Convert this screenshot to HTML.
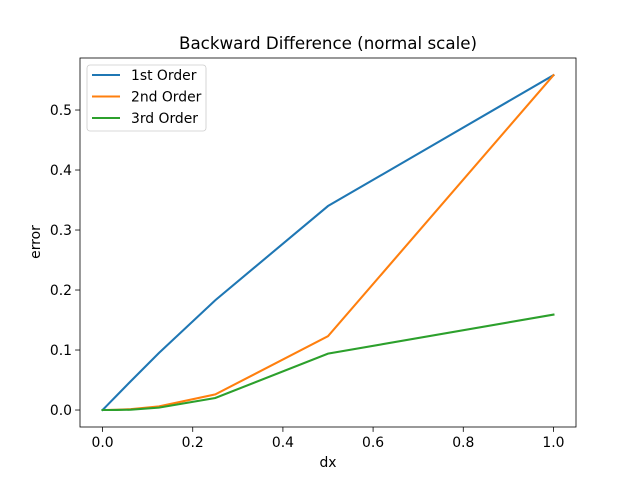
<!DOCTYPE html>
<html><head><meta charset="utf-8"><style>
body{margin:0;background:#fff;}
svg{display:block;font-family:"DejaVu Sans","Liberation Sans",sans-serif;}
</style></head><body>
<svg id="chart" width="640" height="480"></svg>
<script>
const xValues=[0.001953125,0.00390625,0.0078125,0.015625,0.03125,0.0625,0.125,0.25,0.5,1.0];
const firstOrder=[0.0015,0.003,0.006,0.012,0.024,0.048,0.095,0.183,0.34,0.558];
const secondOrder=[0,0,0.00001,0.0001,0.0004,0.0015,0.006,0.026,0.123,0.558];
const thirdOrder=[0,0,0,0.00001,0.0001,0.0005,0.004,0.020,0.094,0.159];
const xTicks=[0.0,0.2,0.4,0.6,0.8,1.0];
const yTicks=[0.0,0.1,0.2,0.3,0.4,0.5];
const seriesNames=["1st Order","2nd Order","3rd Order"];
const colors=["#1f77b4","#ff7f0e","#2ca02c"];
const NS="http://www.w3.org/2000/svg";
const svg=document.getElementById('chart');
const L=80,R=576,T=58,B=427;
const xMin=-0.05,xMax=1.05,yMin=-0.0283,yMax=0.5867;
const sx=v=>L+(v-xMin)/(xMax-xMin)*(R-L);
const sy=v=>B-(v-yMin)/(yMax-yMin)*(B-T);
function mk(tag,attrs,parent){const e=document.createElementNS(NS,tag);for(const k in attrs)e.setAttribute(k,attrs[k]);(parent||svg).appendChild(e);return e;}
const series=[firstOrder,secondOrder,thirdOrder];
series.forEach((s,i)=>{
  const pts=[[0,0]].concat(xValues.map((x,j)=>[x,s[j]]));
  const p=mk('polyline',{points:pts.map(q=>sx(q[0])+','+sy(q[1])).join(' '),fill:'none',stroke:colors[i],'stroke-width':2.08,'stroke-linecap':'square'});
  
  
});
const frame=mk('rect',{x:L,y:T,width:R-L,height:B-T,fill:'none',stroke:'#000','stroke-width':0.8});


xTicks.forEach(v=>{
  mk('line',{x1:sx(v),x2:sx(v),y1:B,y2:B+4.9,stroke:'#000','stroke-width':0.8});
  const t=mk('text',{x:sx(v),y:B+20,'font-size':13.9,'text-anchor':'middle'});t.textContent=v.toFixed(1);
  
  
});
yTicks.forEach(v=>{
  mk('line',{x1:L-4.9,x2:L,y1:sy(v),y2:sy(v),stroke:'#000','stroke-width':0.8});
  const t=mk('text',{x:L-8,y:sy(v)+5,'font-size':13.9,'text-anchor':'end'});t.textContent=v.toFixed(1);
  
  
});
let t=mk('text',{x:328,y:49,'font-size':16.7,'text-anchor':'middle'});t.textContent='Backward Difference (normal scale)';


t=mk('text',{x:328,y:467,'font-size':13.9,'text-anchor':'middle'});t.textContent='dx';


t=mk('text',{x:40,y:242,'font-size':13.9,'text-anchor':'middle',transform:'rotate(-90 40 242)'});t.textContent='error';


const lg=mk('g',{});


mk('rect',{x:87,y:65,width:119,height:66,rx:3,fill:'#fff','fill-opacity':0.8,stroke:'#ccc','stroke-width':0.8},lg);
seriesNames.forEach((n,i)=>{
  const y=75+i*21.5;
  mk('line',{x1:92,x2:120,y1:y,y2:y,stroke:colors[i],'stroke-width':2.08},lg);
  const tt=mk('text',{x:131,y:y+5,'font-size':13.9},lg);tt.textContent=n;
  
  
});
</script>
</body></html>
